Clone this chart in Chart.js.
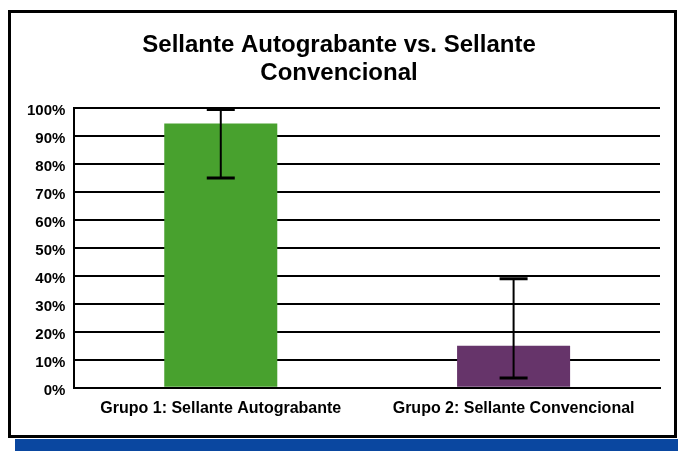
<!DOCTYPE html>
<html>
<head>
<meta charset="utf-8">
<script src="https://cdn.jsdelivr.net/npm/chart.js@4/dist/chart.umd.min.js"></script>
<style>
  html, body { margin: 0; padding: 0; background: #fff; }
  #wrap { position: relative; width: 678px; height: 451px; overflow: hidden; }
  #shadow { position: absolute; left: 15px; top: 439px; width: 663px; height: 12px; background: #0A47A0; }
  #frame { position: absolute; left: 8px; top: 10px; width: 669px; height: 428px; border: 3px solid #000; box-sizing: border-box; background: #fff; }
  #chart { position: absolute; left: 0; top: 0; }
</style>
</head>
<body>
<div id="wrap">
  <div id="shadow"></div>
  <div id="frame"></div>
  <canvas id="chart" width="678" height="451"></canvas>
</div>
<script>
// valores
const categories = ['Grupo 1: Sellante Autograbante', 'Grupo 2: Sellante Convencional'];
const values = [94.5, 15];
const errLow = [75, 3.5];
const errHigh = [99.5, 39];
const barColors = ['#48A12E', '#66346A'];
const titleLines = ['Sellante Autograbante vs. Sellante', 'Convencional'];

// barras de error dibujadas con las escalas del gráfico
const errorBars = {
    id: 'errorBars',
    afterDatasetsDraw(chart) {
        const { ctx, scales: { x, y } } = chart;
        ctx.save();
        ctx.strokeStyle = '#000';
        errLow.forEach((lo, i) => {
            const cx = x.getPixelForValue(i);
            const yLo = y.getPixelForValue(lo);
            const yHi = y.getPixelForValue(errHigh[i]);
            ctx.lineWidth = 2;
            ctx.beginPath(); ctx.moveTo(cx, yLo); ctx.lineTo(cx, yHi); ctx.stroke();
            ctx.lineWidth = 3;
            ctx.beginPath();
            ctx.moveTo(cx - 14, yLo); ctx.lineTo(cx + 14, yLo);
            ctx.moveTo(cx - 14, yHi); ctx.lineTo(cx + 14, yHi);
            ctx.stroke();
        });
        ctx.restore();
    }
};

new Chart(document.getElementById('chart'), {
    type: 'bar',
    data: {
        labels: categories,
        datasets: [{ data: values, backgroundColor: barColors, borderWidth: 0, barPercentage: 0.386, categoryPercentage: 1 }]
    },
    options: {
        responsive: false,
        animation: false,
        layout: { padding: { left: 18, right: 18, top: 32, bottom: 22 } },
        plugins: {
            legend: { display: false },
            tooltip: { enabled: false },
            title: {
                display: true,
                text: titleLines,
                color: '#000',
                font: { family: 'Liberation Sans, Arial, sans-serif', size: 24, weight: 'bold', lineHeight: 1.15 },
                padding: { top: 0, bottom: 21 }
            }
        },
        scales: {
            x: {
                grid: { display: false, drawTicks: false },
                border: { display: true, color: '#000', width: 2 },
                ticks: { color: '#000', padding: 11, font: { family: 'Liberation Sans, Arial, sans-serif', size: 16, weight: 'bold' } }
            },
            y: {
                min: 0, max: 100,
                grid: { color: '#000', lineWidth: 2, drawTicks: false },
                border: { display: true, color: '#000', width: 2 },
                ticks: {
                    stepSize: 10, color: '#000', padding: 9, labelOffset: 3,
                    callback: v => v + '%',
                    font: { family: 'Liberation Sans, Arial, sans-serif', size: 15, weight: 'bold' }
                }
            }
        }
    },
    plugins: [errorBars]
});
</script>
</body>
</html>
